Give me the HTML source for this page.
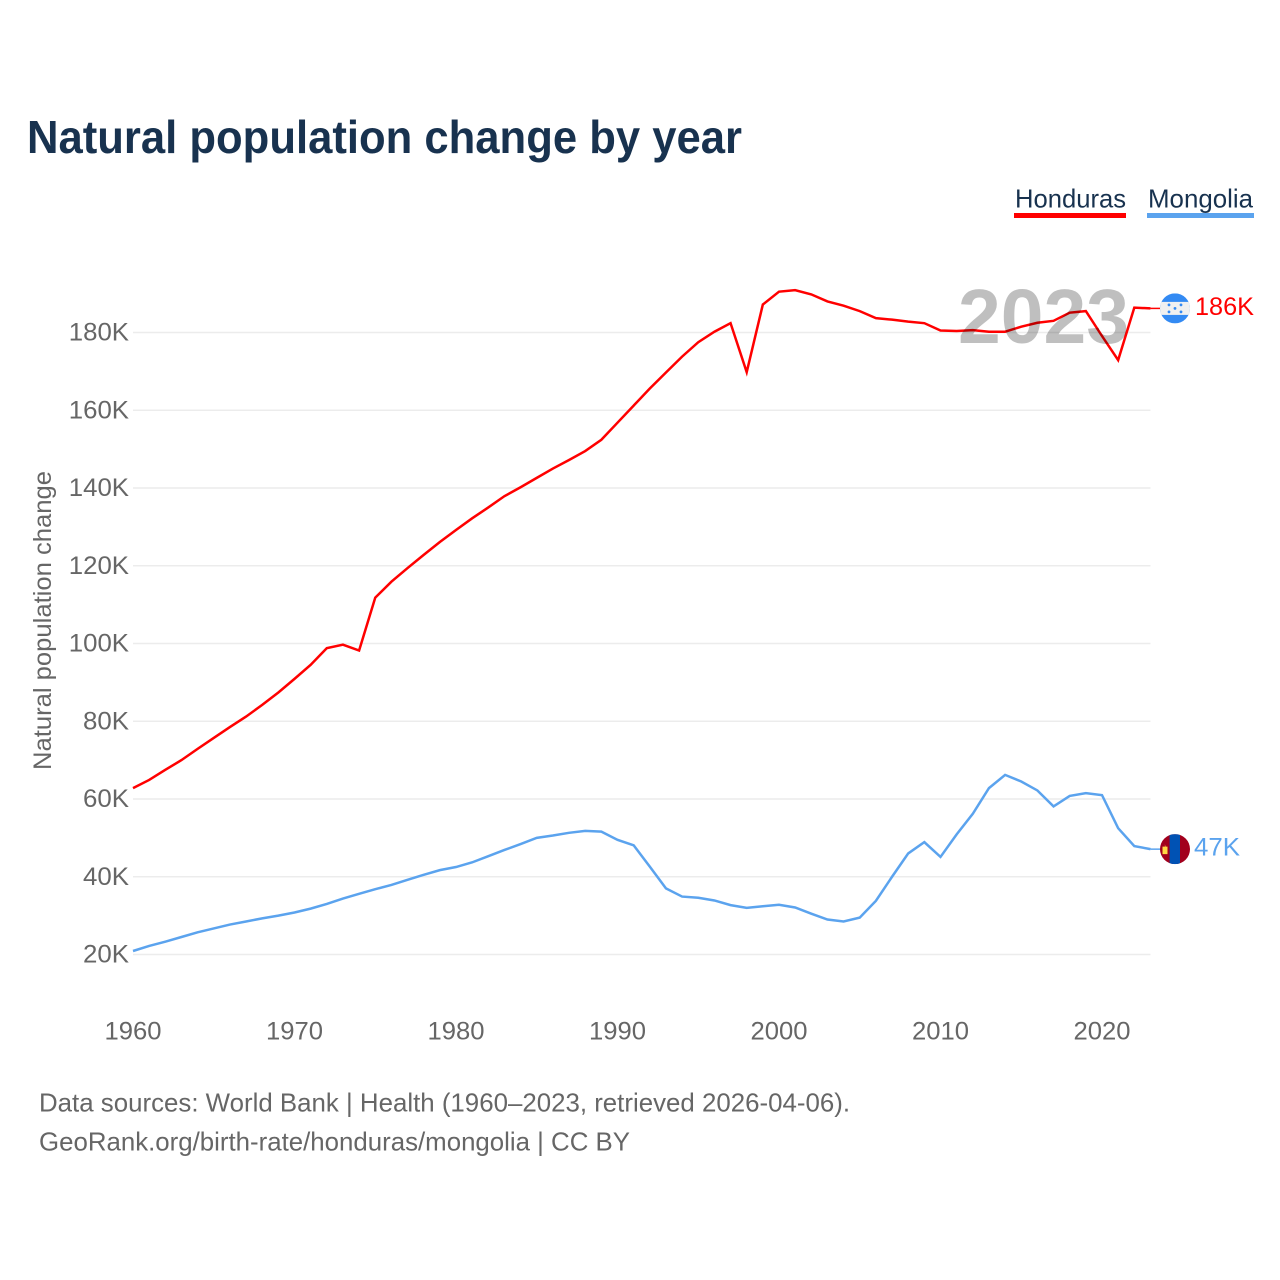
<!DOCTYPE html>
<html lang="en">
<head>
<meta charset="utf-8">
<title>Natural population change by year</title>
<style>
html,body{margin:0;padding:0;background:#fff;width:1280px;height:1280px;overflow:hidden}
svg{display:block}
text{font-family:"Liberation Sans","DejaVu Sans",sans-serif}
</style>
</head>
<body>
<svg id="chart" xmlns="http://www.w3.org/2000/svg" width="1280" height="1280" viewBox="0 0 1280 1280">
  <rect x="0" y="0" width="1280" height="1280" fill="#ffffff"/>
  <text x="27" y="153" font-size="46" font-weight="bold" fill="#18324f" textLength="715" lengthAdjust="spacingAndGlyphs">Natural population change by year</text>

  <g>
    <g>
      <text x="1015" y="207.5" font-size="26" fill="#18324f" textLength="111" lengthAdjust="spacingAndGlyphs">Honduras</text>
      <rect x="1014" y="213" width="112" height="5" fill="#ff0000"/>
    </g>
    <g>
      <text x="1148" y="207.5" font-size="26" fill="#18324f" textLength="105" lengthAdjust="spacingAndGlyphs">Mongolia</text>
      <rect x="1147" y="213" width="107" height="5" fill="#5ba3ee"/>
    </g>
  </g>

  <g id="grid"></g>
  <g id="yticks"></g>
  <g id="xticks"></g>
  <text transform="translate(51,770) rotate(-90)" x="0" y="0" font-size="25" fill="#666666" textLength="299" lengthAdjust="spacingAndGlyphs">Natural population change</text>

  <g id="series"></g>

  <text x="958" y="343" font-size="77" font-weight="bold" fill="#000000" fill-opacity="0.25" textLength="171" lengthAdjust="spacingAndGlyphs">2023</text>

  <defs>
    <clipPath id="clip-hn"><circle id="clip-hn-c" cx="1175" cy="308" r="15"/></clipPath>
    <clipPath id="clip-mn"><circle id="clip-mn-c" cx="1175" cy="849" r="15"/></clipPath>
  </defs>
  <g id="flag-hn"></g>
  <g id="flag-mn"></g>
  <g id="endlabels"></g>

  <text x="39" y="1111.5" font-size="26" fill="#666666" textLength="811" lengthAdjust="spacingAndGlyphs">Data sources: World Bank | Health (1960–2023, retrieved 2026-04-06).</text>
  <text x="39" y="1150.5" font-size="26" fill="#666666" textLength="591" lengthAdjust="spacingAndGlyphs">GeoRank.org/birth-rate/honduras/mongolia | CC BY</text>
</svg>
<script>
const startYear = 1960;
const xTickYears = [1960, 1970, 1980, 1990, 2000, 2010, 2020];
const yTickValues = [20, 40, 60, 80, 100, 120, 140, 160, 180];
const hondurasValues = [62.8,64.9,67.5,70.0,72.9,75.7,78.5,81.2,84.2,87.4,90.9,94.5,98.8,99.7,98.2,111.8,115.9,119.4,122.8,126.1,129.2,132.2,135.0,137.9,140.2,142.6,145.0,147.2,149.5,152.4,156.8,161.2,165.6,169.7,173.8,177.5,180.2,182.4,169.8,187.2,190.5,190.9,189.8,188.0,186.9,185.5,183.7,183.3,182.8,182.4,180.5,180.4,180.6,180.2,180.2,181.5,182.5,183.0,185.1,185.5,179.1,172.9,186.4,186.2];
const mongoliaValues = [20.9,22.2,23.3,24.5,25.7,26.7,27.7,28.5,29.3,30.0,30.8,31.8,33.0,34.4,35.6,36.8,37.9,39.2,40.5,41.7,42.5,43.7,45.3,46.9,48.4,50.0,50.6,51.3,51.8,51.6,49.5,48.1,42.6,37.0,34.9,34.6,33.9,32.7,32.0,32.4,32.8,32.1,30.5,29.0,28.5,29.5,33.8,40.0,46.0,48.9,45.1,50.9,56.2,62.8,66.2,64.5,62.2,58.1,60.8,61.5,61.0,52.5,47.9,47.1];

const NS = 'http://www.w3.org/2000/svg';
function xScale(year){ return 133 + (year - 1960) * 16.15; }
function yScale(k){ return 954.5 - (k - 20) * 3.8875; }
function make(tag, attrs, parent){
  const el = document.createElementNS(NS, tag);
  for (const k in attrs) el.setAttribute(k, attrs[k]);
  parent.appendChild(el);
  return el;
}
function labelWidth(s){ return s.endsWith('K') ? (s.length - 1) * 14.25 + 17.5 : s.length * 14.25; }

const gridG = document.getElementById('grid');
const yG = document.getElementById('yticks');
const xG = document.getElementById('xticks');
const seriesG = document.getElementById('series');
const endG = document.getElementById('endlabels');
const lastYear = startYear + hondurasValues.length - 1;

yTickValues.forEach(function(v){
  const line = make('line', {x1:xScale(startYear), x2:xScale(lastYear), y1:yScale(v), y2:yScale(v), stroke:'#ececec', 'stroke-width':1.6}, gridG);
  
  
  const s = v + 'K';
  const t = make('text', {x:129 - labelWidth(s), y:yScale(v) + 8, 'font-size':25, fill:'#666666', textLength:labelWidth(s), lengthAdjust:'spacingAndGlyphs'}, yG);
  t.textContent = s;
  
  
});

xTickYears.forEach(function(yr){
  const s = String(yr);
  const t = make('text', {x:xScale(yr) - labelWidth(s) / 2, y:1039.5, 'font-size':25, fill:'#666666', textLength:labelWidth(s), lengthAdjust:'spacingAndGlyphs'}, xG);
  t.textContent = s;
  
  
});

function linePath(values){
  return values.map(function(v, i){
    return (i ? 'L' : 'M') + xScale(startYear + i).toFixed(2) + ' ' + yScale(v).toFixed(2);
  }).join(' ');
}

const hnPath = make('path', {d:linePath(hondurasValues), fill:'none', stroke:'#ff0000', 'stroke-width':2.5, 'stroke-linejoin':'miter'}, seriesG);


const mnPath = make('path', {d:linePath(mongoliaValues), fill:'none', stroke:'#5ba3ee', 'stroke-width':2.5, 'stroke-linejoin':'miter'}, seriesG);



const hnLast = hondurasValues[hondurasValues.length - 1];
const mnLast = mongoliaValues[mongoliaValues.length - 1];
const hnY = yScale(hnLast);
const mnY = yScale(mnLast);

const hnConn = make('line', {x1:xScale(lastYear), x2:1160, y1:hnY, y2:hnY, stroke:'#ff0000', 'stroke-width':1.5}, seriesG);


const mnConn = make('line', {x1:xScale(lastYear), x2:1160, y1:mnY, y2:mnY, stroke:'#5ba3ee', 'stroke-width':1.5}, seriesG);



/* Honduras flag */
document.getElementById('clip-hn-c').setAttribute('cy', hnY);
const fh = document.getElementById('flag-hn');
fh.setAttribute('clip-path', 'url(#clip-hn)');
const hnBlue = make('rect', {x:1160, y:hnY - 15, width:30, height:30, fill:'#338af3'}, fh);


const hnWhite = make('rect', {x:1160, y:hnY - 6.5, width:30, height:13, fill:'#f0f0f0'}, fh);


[[-6,-3.5],[6,-3.5],[0,0],[-6,3.5],[6,3.5]].forEach(function(p){
  const star = make('circle', {cx:1175 + p[0], cy:hnY + p[1], r:1.4, fill:'#338af3'}, fh);
  
  
});

/* Mongolia flag */
document.getElementById('clip-mn-c').setAttribute('cy', mnY);
const fm = document.getElementById('flag-mn');
fm.setAttribute('clip-path', 'url(#clip-mn)');
const mnRed = make('rect', {x:1160, y:mnY - 15, width:30, height:30, fill:'#a2001d'}, fm);


const mnBand = make('rect', {x:1169.6, y:mnY - 15, width:10.4, height:30, fill:'#0052b4'}, fm);


const mnSym = make('path', {d:'M1164.9 ' + (mnY - 5) + 'v2.5h-2.4v7.5h5v-7.5h-2z', fill:'#ffda44'}, fm);



/* End labels */
const hnLabel = make('text', {x:1195, y:hnY + 6.5, 'font-size':25, fill:'#ff0000', textLength:59, lengthAdjust:'spacingAndGlyphs'}, endG);
hnLabel.textContent = Math.round(hnLast) + 'K';


const mnLabel = make('text', {x:1194, y:mnY + 6.5, 'font-size':25, fill:'#5ba3ee', textLength:46, lengthAdjust:'spacingAndGlyphs'}, endG);
mnLabel.textContent = Math.round(mnLast) + 'K';


</script>
</body>
</html>
